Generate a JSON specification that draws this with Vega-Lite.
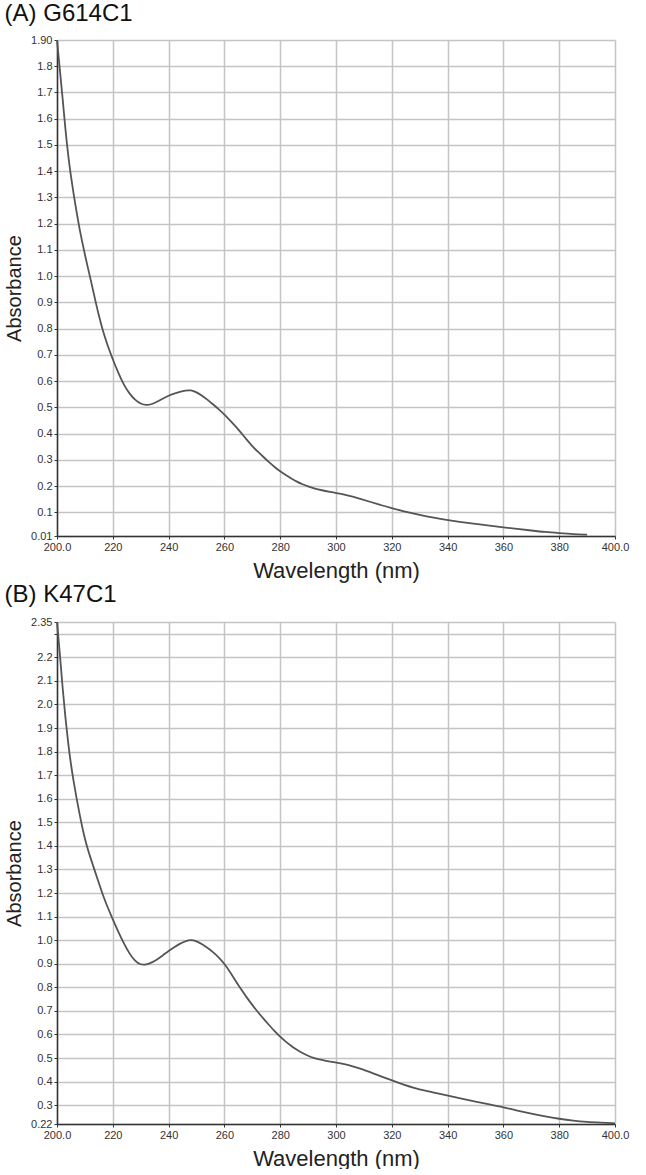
{
  "$schema": "https://vega.github.io/schema/vega-lite/v6.json",
  "padding": {"left": 4, "top": 2, "right": 8, "bottom": 0},
  "spacing": 2,
  "config": {
    "font": "Liberation Sans",
    "view": {"stroke": null},
    "axis": {
      "labelFont": "Liberation Sans",
      "labelFontSize": 11,
      "labelColor": "#333",
      "titleFont": "Liberation Sans",
      "titleFontWeight": "normal",
      "titleColor": "#222",
      "gridColor": "#c4c4c4",
      "gridWidth": 1.5,
      "gridOpacity": 1,
      "domainColor": "#333",
      "domainWidth": 1.5,
      "tickColor": "#333",
      "tickSize": 3,
      "tickWidth": 1,
      "labelOverlap": false,
      "labelFlush": false
    },
    "title": {"font": "Liberation Sans", "fontSize": 24, "fontWeight": "normal", "color": "#111", "anchor": "start", "frame": "bounds", "offset": 10}
  },
  "datasets": {
    "a": [
      {"wl": 200, "abs": 1.90}, {"wl": 201, "abs": 1.79}, {"wl": 202, "abs": 1.68}, {"wl": 203, "abs": 1.56},
      {"wl": 204, "abs": 1.46}, {"wl": 205, "abs": 1.38}, {"wl": 206, "abs": 1.31}, {"wl": 207, "abs": 1.245},
      {"wl": 208, "abs": 1.185}, {"wl": 209, "abs": 1.132}, {"wl": 210, "abs": 1.082}, {"wl": 211, "abs": 1.035},
      {"wl": 212, "abs": 0.99}, {"wl": 213, "abs": 0.943}, {"wl": 214, "abs": 0.895}, {"wl": 215, "abs": 0.85},
      {"wl": 216, "abs": 0.81}, {"wl": 217, "abs": 0.773}, {"wl": 218, "abs": 0.74}, {"wl": 220, "abs": 0.683},
      {"wl": 222, "abs": 0.63}, {"wl": 224, "abs": 0.585}, {"wl": 226, "abs": 0.552}, {"wl": 228, "abs": 0.528},
      {"wl": 230, "abs": 0.513}, {"wl": 232, "abs": 0.508}, {"wl": 234, "abs": 0.512}, {"wl": 236, "abs": 0.522},
      {"wl": 238, "abs": 0.534}, {"wl": 240, "abs": 0.545}, {"wl": 242, "abs": 0.553}, {"wl": 244, "abs": 0.559},
      {"wl": 246, "abs": 0.565}, {"wl": 248, "abs": 0.566}, {"wl": 250, "abs": 0.558}, {"wl": 252, "abs": 0.545},
      {"wl": 254, "abs": 0.529}, {"wl": 256, "abs": 0.511}, {"wl": 258, "abs": 0.493}, {"wl": 260, "abs": 0.473},
      {"wl": 262, "abs": 0.451}, {"wl": 264, "abs": 0.428}, {"wl": 266, "abs": 0.403}, {"wl": 268, "abs": 0.377},
      {"wl": 270, "abs": 0.352}, {"wl": 272, "abs": 0.331}, {"wl": 274, "abs": 0.311}, {"wl": 276, "abs": 0.291},
      {"wl": 278, "abs": 0.273}, {"wl": 280, "abs": 0.256}, {"wl": 282, "abs": 0.242}, {"wl": 284, "abs": 0.229},
      {"wl": 286, "abs": 0.217}, {"wl": 288, "abs": 0.207}, {"wl": 290, "abs": 0.199}, {"wl": 292, "abs": 0.192},
      {"wl": 295, "abs": 0.184}, {"wl": 298, "abs": 0.178}, {"wl": 300, "abs": 0.174}, {"wl": 303, "abs": 0.168},
      {"wl": 306, "abs": 0.16}, {"wl": 309, "abs": 0.151}, {"wl": 312, "abs": 0.141}, {"wl": 316, "abs": 0.128},
      {"wl": 320, "abs": 0.116}, {"wl": 324, "abs": 0.105}, {"wl": 328, "abs": 0.095}, {"wl": 332, "abs": 0.086},
      {"wl": 336, "abs": 0.078}, {"wl": 340, "abs": 0.071}, {"wl": 345, "abs": 0.063}, {"wl": 350, "abs": 0.056},
      {"wl": 355, "abs": 0.049}, {"wl": 360, "abs": 0.043}, {"wl": 365, "abs": 0.037}, {"wl": 370, "abs": 0.031},
      {"wl": 375, "abs": 0.025}, {"wl": 380, "abs": 0.021}, {"wl": 385, "abs": 0.017}, {"wl": 390, "abs": 0.015}
    ],
    "b": [
      {"wl": 200, "abs": 2.35}, {"wl": 201, "abs": 2.22}, {"wl": 202, "abs": 2.07}, {"wl": 203, "abs": 1.945},
      {"wl": 204, "abs": 1.835}, {"wl": 205, "abs": 1.745}, {"wl": 206, "abs": 1.67}, {"wl": 207, "abs": 1.603},
      {"wl": 208, "abs": 1.54}, {"wl": 209, "abs": 1.482}, {"wl": 210, "abs": 1.43}, {"wl": 211, "abs": 1.387},
      {"wl": 212, "abs": 1.35}, {"wl": 213, "abs": 1.314}, {"wl": 214, "abs": 1.278}, {"wl": 215, "abs": 1.243},
      {"wl": 216, "abs": 1.207}, {"wl": 217, "abs": 1.174}, {"wl": 218, "abs": 1.144}, {"wl": 220, "abs": 1.088},
      {"wl": 222, "abs": 1.035}, {"wl": 224, "abs": 0.985}, {"wl": 226, "abs": 0.942}, {"wl": 228, "abs": 0.911},
      {"wl": 230, "abs": 0.895}, {"wl": 232, "abs": 0.896}, {"wl": 234, "abs": 0.905}, {"wl": 236, "abs": 0.919},
      {"wl": 238, "abs": 0.936}, {"wl": 240, "abs": 0.954}, {"wl": 242, "abs": 0.97}, {"wl": 244, "abs": 0.985},
      {"wl": 246, "abs": 0.996}, {"wl": 248, "abs": 1.002}, {"wl": 250, "abs": 0.996}, {"wl": 252, "abs": 0.983},
      {"wl": 254, "abs": 0.967}, {"wl": 256, "abs": 0.949}, {"wl": 258, "abs": 0.927}, {"wl": 260, "abs": 0.9},
      {"wl": 262, "abs": 0.866}, {"wl": 264, "abs": 0.828}, {"wl": 266, "abs": 0.791}, {"wl": 268, "abs": 0.757},
      {"wl": 270, "abs": 0.725}, {"wl": 272, "abs": 0.695}, {"wl": 274, "abs": 0.667}, {"wl": 276, "abs": 0.64},
      {"wl": 278, "abs": 0.614}, {"wl": 280, "abs": 0.59}, {"wl": 282, "abs": 0.569}, {"wl": 284, "abs": 0.551},
      {"wl": 286, "abs": 0.535}, {"wl": 288, "abs": 0.521}, {"wl": 290, "abs": 0.509}, {"wl": 292, "abs": 0.5},
      {"wl": 294, "abs": 0.494}, {"wl": 296, "abs": 0.489}, {"wl": 298, "abs": 0.485}, {"wl": 300, "abs": 0.481},
      {"wl": 303, "abs": 0.474}, {"wl": 306, "abs": 0.465}, {"wl": 309, "abs": 0.454}, {"wl": 312, "abs": 0.441},
      {"wl": 315, "abs": 0.427}, {"wl": 318, "abs": 0.414}, {"wl": 320, "abs": 0.405}, {"wl": 324, "abs": 0.388},
      {"wl": 328, "abs": 0.373}, {"wl": 332, "abs": 0.361}, {"wl": 336, "abs": 0.351}, {"wl": 340, "abs": 0.341},
      {"wl": 345, "abs": 0.328}, {"wl": 350, "abs": 0.315}, {"wl": 355, "abs": 0.303}, {"wl": 360, "abs": 0.291},
      {"wl": 365, "abs": 0.277}, {"wl": 370, "abs": 0.264}, {"wl": 375, "abs": 0.252}, {"wl": 380, "abs": 0.242},
      {"wl": 385, "abs": 0.234}, {"wl": 390, "abs": 0.229}, {"wl": 395, "abs": 0.226}, {"wl": 400, "abs": 0.223}
    ]
  },
  "vconcat": [
    {
      "title": {"text": "(A) G614C1", "offset": 8},
      "width": 558,
      "height": 496,
      "data": {"name": "a"},
      "mark": {"type": "line", "color": "#555", "strokeWidth": 1.8, "interpolate": "basis"},
      "encoding": {
        "x": {
          "field": "wl", "type": "quantitative",
          "scale": {"domain": [200, 400], "nice": false},
          "axis": {
            "title": "Wavelength (nm)", "titleFontSize": 22, "titlePadding": 8,
            "values": [200, 220, 240, 260, 280, 300, 320, 340, 360, 380, 400],
            "labelExpr": "datum.value == 200 || datum.value == 400 ? format(datum.value, '.1f') : format(datum.value, 'd')"
          }
        },
        "y": {
          "field": "abs", "type": "quantitative",
          "scale": {"domain": [0.01, 1.9], "nice": false, "zero": false},
          "axis": {
            "title": "Absorbance", "titleFontSize": 20, "titlePadding": 6,
            "values": [0.01, 0.1, 0.2, 0.3, 0.4, 0.5, 0.6, 0.7, 0.8, 0.9, 1.0, 1.1, 1.2, 1.3, 1.4, 1.5, 1.6, 1.7, 1.8, 1.9],
            "labelExpr": "datum.value < 0.05 ? '0.01' : (datum.value > 1.85 ? '1.90' : format(datum.value, '.1f'))"
          }
        }
      }
    },
    {
      "title": {"text": "(B) K47C1", "offset": 9},
      "width": 558,
      "height": 502,
      "data": {"name": "b"},
      "mark": {"type": "line", "color": "#555", "strokeWidth": 1.8, "interpolate": "basis"},
      "encoding": {
        "x": {
          "field": "wl", "type": "quantitative",
          "scale": {"domain": [200, 400], "nice": false},
          "axis": {
            "title": "Wavelength (nm)", "titleFontSize": 22, "titlePadding": 8,
            "values": [200, 220, 240, 260, 280, 300, 320, 340, 360, 380, 400],
            "labelExpr": "datum.value == 200 || datum.value == 400 ? format(datum.value, '.1f') : format(datum.value, 'd')"
          }
        },
        "y": {
          "field": "abs", "type": "quantitative",
          "scale": {"domain": [0.22, 2.35], "nice": false, "zero": false},
          "axis": {
            "title": "Absorbance", "titleFontSize": 20, "titlePadding": 6,
            "values": [0.22, 0.3, 0.4, 0.5, 0.6, 0.7, 0.8, 0.9, 1.0, 1.1, 1.2, 1.3, 1.4, 1.5, 1.6, 1.7, 1.8, 1.9, 2.0, 2.1, 2.2, 2.3, 2.35],
            "labelExpr": "datum.value < 0.25 ? '0.22' : (datum.value > 2.32 ? '2.35' : (datum.value > 2.25 ? '' : format(datum.value, '.1f')))"
          }
        }
      }
    }
  ]
}
